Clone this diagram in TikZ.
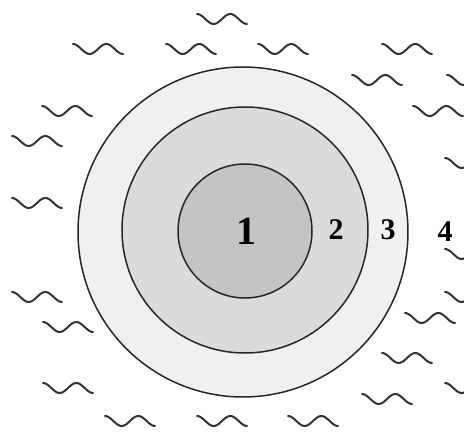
\documentclass[tikz,border=0pt]{standalone}
\usepackage{fontspec}
\setmainfont{Liberation Serif}
\usetikzlibrary{positioning}

\begin{document}
\begin{tikzpicture}[x=1pt, y=-1pt,
    zone/.style={circle, draw=black!85, line width=1.5pt, inner sep=0pt},
    num/.style={font=\fontsize{30}{30}\selectfont\bfseries, inner sep=0pt},
    wave/.style={draw=black!80, line width=2pt, line cap=round},
]
\useasboundingbox (0,0) rectangle (464,446);
\clip (0,0) rectangle (464,446);

% water all round
\foreach \px/\py in {222/19, 98/49, 191/49, 283/49, 407/49, 377/80, 472/80,
                     67/111, 438/111, 37/141, 470/163, 37/203, 470/254,
                     37/297, 68/327, 470/297, 430/318, 407/358, 470/388,
                     68/388, 387/399, 130/421, 222/421, 313/421, 398/452}
    \draw[wave, shift={(\px,\py)}] plot[domain=-25:25, samples=31, smooth]
        (\x, {-5*cos((\x+25)*10.8)});

% zones, outer to inner
\node[zone, fill=black!6, minimum size=330pt] (zone3) at (243,232) {};
\node[zone, fill=black!14, minimum size=246pt] (zone2) at (245,230) {};
\node[zone, fill=black!23, minimum size=134pt] (zone1) at (245,231) {};

% labels
\node[num, font=\fontsize{40}{40}\selectfont\bfseries] (lab1) at (246,231) {1};
\node[num] (lab2) at (336,230) {2};
\node[num] (lab3) at (388,230) {3};
\node[num] (lab4) at (445,232) {4};
\end{tikzpicture}
\end{document}
